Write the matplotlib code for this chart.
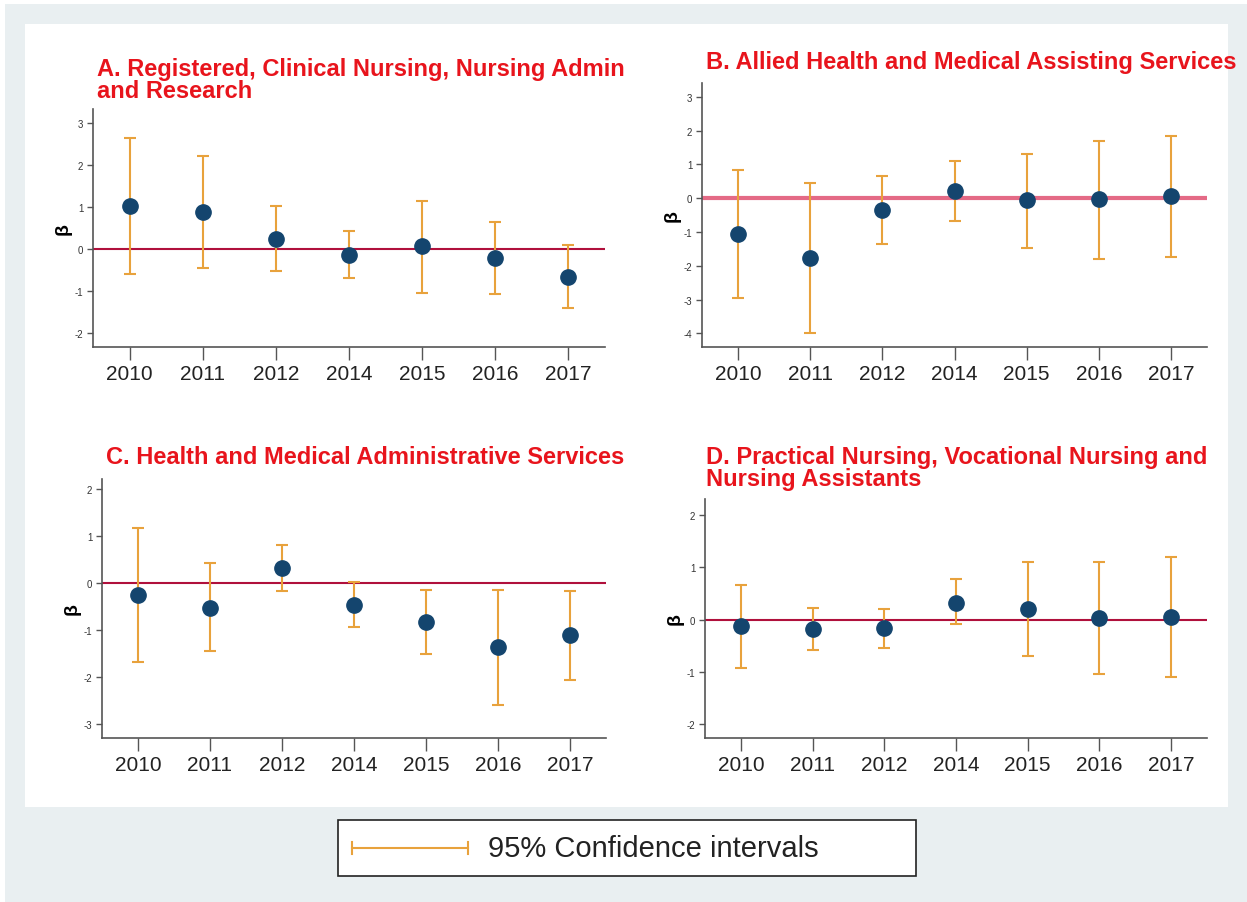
import numpy as np
import matplotlib
matplotlib.use('Agg')
import matplotlib.pyplot as plt
from matplotlib.patches import Rectangle
from matplotlib.lines import Line2D
from matplotlib.transforms import Bbox

plt.rcParams['font.family'] = ['Liberation Sans', 'DejaVu Sans']

years = ["2010", "2011", "2012", "2014", "2015", "2016", "2017"]

# Panel A
a_beta = [1.03, 0.88, 0.25, -0.14, 0.07, -0.21, -0.67]
a_lo = [-0.60, -0.45, -0.52, -0.69, -1.05, -1.07, -1.40]
a_hi = [2.65, 2.21, 1.02, 0.42, 1.14, 0.64, 0.10]

# Panel B
b_beta = [-1.05, -1.78, -0.35, 0.22, -0.05, -0.02, 0.07]
b_lo = [-2.95, -3.98, -1.35, -0.67, -1.48, -1.80, -1.73]
b_hi = [0.85, 0.45, 0.65, 1.10, 1.31, 1.70, 1.85]

# Panel C
c_beta = [-0.25, -0.52, 0.33, -0.46, -0.83, -1.36, -1.10]
c_lo = [-1.68, -1.45, -0.17, -0.93, -1.50, -2.59, -2.06]
c_hi = [1.18, 0.42, 0.82, 0.02, -0.14, -0.14, -0.16]

# Panel D
d_beta = [-0.12, -0.18, -0.17, 0.32, 0.20, 0.03, 0.05]
d_lo = [-0.92, -0.58, -0.55, -0.08, -0.70, -1.04, -1.10]
d_hi = [0.65, 0.22, 0.20, 0.77, 1.10, 1.10, 1.19]

titles = [
    "A. Registered, Clinical Nursing, Nursing Admin\nand Research",
    "B. Allied Health and Medical Assisting Services",
    "C. Health and Medical Administrative Services",
    "D. Practical Nursing, Vocational Nursing and\nNursing Assistants",
]

W, H = 1247, 903
ORANGE = "#e8a23c"
NAVY = "#14456e"
RED = "#b0103c"


def fig_rect(left, top, right, bottom):
    return [left / W, 1 - bottom / H, (right - left) / W, (bottom - top) / H]


fig = plt.figure(figsize=(W / 100, H / 100), dpi=100)
fig.patch.set_facecolor("white")
fig.add_artist(Rectangle((5 / W, 0), 1 - 5 / W, 1 - 5 / H, transform=fig.transFigure,
                         facecolor="#e9eff1", edgecolor="none", zorder=-2))
fig.add_artist(Rectangle((25 / W, 1 - 808 / H), (1228 - 25) / W, (808 - 25) / H,
                         transform=fig.transFigure, facecolor="white",
                         edgecolor="none", zorder=-1))

# axes box (px), ylim, yticks, title pos (px), title clip x (px), zero line colour/width
panels = [
    (a_beta, a_lo, a_hi, (93, 110, 605, 348), (-2.33, 3.33), [-2, -1, 0, 1, 2, 3], (97, 58), 630, RED, 1.5),
    (b_beta, b_lo, b_hi, (702, 84, 1207, 348), (-4.4, 3.41), [-4, -3, -2, -1, 0, 1, 2, 3], (706, 51), 1247, "#e46a86", 3),
    (c_beta, c_lo, c_hi, (102, 480, 606, 739), (-3.3, 2.22), [-3, -2, -1, 0, 1, 2], (106, 446), 630, RED, 1.5),
    (d_beta, d_lo, d_hi, (705, 500, 1207, 739), (-2.26, 2.3), [-2, -1, 0, 1, 2], (706, 446), 1247, RED, 1.5),
]

x = np.arange(len(years))
for (beta, lo, hi, box, ylim, yt, tpos, clipx, zcol, zlw), title in zip(panels, titles):
    ax = fig.add_axes(fig_rect(*box))
    beta = np.array(beta)
    err = [beta - np.array(lo), np.array(hi) - beta]
    ax.axhline(0, color=zcol, lw=zlw, zorder=1)
    ax.errorbar(x, beta, yerr=err, fmt="none", ecolor=ORANGE, elinewidth=1.5,
                capsize=4, capthick=1.5, zorder=2)
    ax.plot(x, beta, "o", color=NAVY, ms=11, zorder=3)
    ax.set_xlim(-0.5, 6.5)
    ax.set_ylim(*ylim)
    ax.set_xticks(x)
    ax.set_xticklabels(years, fontsize=15, color="#222222")
    ax.set_yticks(yt)
    ax.set_yticklabels([str(v) for v in yt], fontsize=7, color="#333333")
    ax.tick_params(axis="x", length=9, width=1, color="#555555", pad=3)
    ax.tick_params(axis="y", length=4, width=1, color="#555555", pad=3)
    for s in ["top", "right"]:
        ax.spines[s].set_visible(False)
    for s in ["left", "bottom"]:
        ax.spines[s].set_color("#555555")
        ax.spines[s].set_linewidth(1.2)
    ax.set_ylabel("β", fontsize=14, fontweight="bold", labelpad=2)
    t = fig.text(tpos[0] / W, 1 - tpos[1] / H, title, color="#e8141c", fontsize=17,
                 fontweight="bold", va="top", ha="left", linespacing=0.97)
    t.set_clip_box(Bbox([[0, 0], [clipx, H]]))
    t.set_clip_on(True)

# legend box
fig.add_artist(Rectangle((338 / W, 1 - 877 / H), (916 - 338) / W, (877 - 821) / H,
                         transform=fig.transFigure, facecolor="white",
                         edgecolor="#222222", lw=1.2))
ly = 1 - 849 / H
fig.add_artist(Line2D([352 / W, 468 / W], [ly, ly], color=ORANGE, lw=1.5))
for xx in (352, 468):
    fig.add_artist(Line2D([xx / W, xx / W], [ly - 6 / H, ly + 6 / H], color=ORANGE, lw=1.5))
fig.text(488 / W, ly, "95% Confidence intervals", fontsize=21, color="#222222",
         va="center", ha="left")

fig.savefig("out.png", dpi=100)
